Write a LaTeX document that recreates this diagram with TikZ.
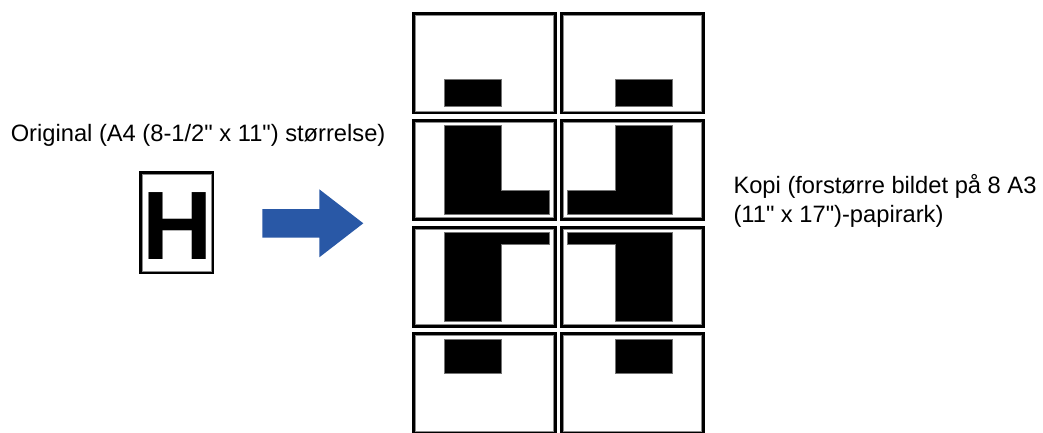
\documentclass[tikz,border=0pt]{standalone}
\usepackage{fontspec}
\setmainfont{Liberation Sans}[Ligatures=TeXOff]
\definecolor{arrowblue}{RGB}{41,88,166}
\begin{document}
\begin{tikzpicture}[x=1pt,y=-1pt,
  panel/.style={draw=black, line width=3pt, minimum width=141.7pt, minimum height=99.2pt, inner sep=0pt, outer sep=0pt},
  hframe/.style={draw=black, line width=2.7pt, minimum width=72.7pt, minimum height=100.7pt, inner sep=0pt, outer sep=0pt},
  innerline/.style={draw=black!45, line width=0.6pt},
  ink/.style={fill=black, draw=black!55, line width=0.6pt},
  lbl/.style={font=\fontsize{23.7}{26}\selectfont, inner sep=0pt, anchor=base west}]
\useasboundingbox (0,0) rectangle (1043,432);

% copy panels
\foreach \c/\x in {1/484.2,2/632.5}{
  \foreach \r/\y in {1/63.1,2/169.6,3/276.6,4/383.4}{
    \node[panel] (p\r\c) at (\x,\y) {};
    \draw[innerline] ([shift={(1.8pt,-1.8pt)}]p\r\c.north west) rectangle ([shift={(-1.8pt,1.8pt)}]p\r\c.south east);
  }
}

% row 1
\filldraw[ink] (444.3,79) rectangle (501.7,106.7);
\filldraw[ink] (615,79) rectangle (672.7,106.7);
% row 2
\filldraw[ink] (444.3,125.7) -- (501.7,125.7) -- (501.7,190) -- (549.3,190) -- (549.3,214) -- (444.3,214) -- cycle;
\filldraw[ink] (615,125.7) -- (672.7,125.7) -- (672.7,214) -- (567.3,214) -- (567.3,190) -- (615,190) -- cycle;
% row 3
\filldraw[ink] (444.3,232.7) -- (549.3,232.7) -- (549.3,244) -- (501.7,244) -- (501.7,321.7) -- (444.3,321.7) -- cycle;
\filldraw[ink] (567.3,232.7) -- (672.7,232.7) -- (672.7,321.7) -- (615,321.7) -- (615,244) -- (567.3,244) -- cycle;
% row 4
\filldraw[ink] (444.3,339) rectangle (501.7,373.7);
\filldraw[ink] (615,339) rectangle (672.7,373.7);

% original
\node[hframe] (hbox) at (176.65,222.65) {};
\draw[innerline] ([shift={(1.65pt,-1.65pt)}]hbox.north west) rectangle ([shift={(-1.65pt,1.65pt)}]hbox.south east);
\node[font=\fontsize{97.3}{97.3}\selectfont\bfseries, inner sep=0pt, anchor=base] (hletter) at (177.2,259) {H};

% arrow
\fill[arrowblue] (262.3,209) -- (319.3,209) -- (319.3,189.3) -- (363.3,223.3) -- (319.3,257.3) -- (319.3,237.7) -- (262.3,237.7) -- cycle;

% labels
\node[lbl] (orig) at (10.6,141.7) {Original (A4 (8-1/2" x 11") størrelse)};
\node[lbl] (kopi1) at (733.3,193.3) {Kopi (forstørre bildet på 8 A3};
\node[lbl] (kopi2) at (733.3,222) {(11" x 17")-papirark)};
\end{tikzpicture}
\end{document}
